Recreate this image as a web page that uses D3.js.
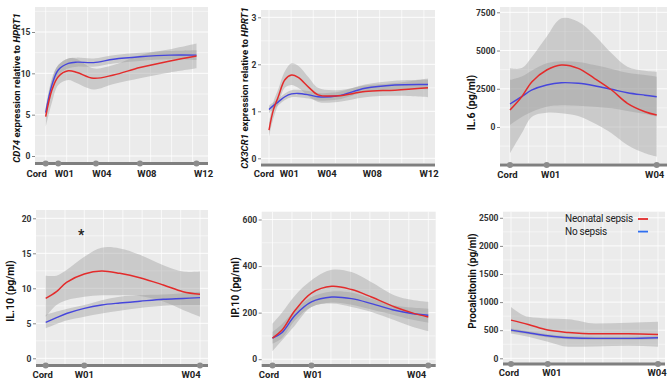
<!DOCTYPE html>
<html>
<head>
<meta charset="utf-8">
<script src="https://cdn.jsdelivr.net/npm/d3@7"></script>
<style>
  body { margin: 0; background: #fff; }
  svg { display: block; }
  text { font-family: Roboto, "Liberation Sans", sans-serif; }
</style>
</head>
<body>
<div id="chart"></div>
<script>
// ---- data ----
const longLabels = ["Cord", "W01", "W04", "W08", "W12"];
const longWeeks = [0, 1, 4, 7.5, 12];
const shortLabels = ["Cord", "W01", "W04"];
const shortWeeks = [0, 1, 4];

// CD74
const cd74Weeks = [0, 0.5, 1, 1.8, 2.5, 3.8, 5.4, 7.5, 9.9, 12];
const cd74Sepsis = [4.75, 8.0, 9.6, 10.3, 10.1, 9.4, 9.8, 10.7, 11.5, 12.1];
const cd74SepsisLo = [3.5, 6.5, 8.6, 9.2, 8.8, 8.05, 8.7, 9.4, 10.1, 10.6];
const cd74SepsisHi = [5.8, 9.4, 11.0, 11.8, 11.7, 10.6, 11.0, 12.2, 12.9, 13.6];
const cd74No = [5.25, 8.6, 10.4, 11.2, 11.35, 11.3, 11.7, 12.0, 12.2, 12.2];
const cd74NoLo = [4.8, 8.0, 9.8, 10.6, 10.8, 10.8, 11.2, 11.5, 11.7, 11.6];
const cd74NoHi = [5.7, 9.2, 11.0, 11.8, 11.9, 11.8, 12.2, 12.5, 12.7, 12.8];

// CX3CR1
const cx3Weeks = [0, 0.33, 0.7, 1.2, 1.7, 2.2, 3.0, 3.7, 5.2, 7.25, 9.5, 12];
const cx3Sepsis = [0.60, 1.03, 1.31, 1.67, 1.77, 1.72, 1.51, 1.35, 1.33, 1.42, 1.45, 1.50];
const cx3SepsisLo = [0.46, 0.85, 1.15, 1.50, 1.56, 1.50, 1.32, 1.20, 1.20, 1.30, 1.33, 1.30];
const cx3SepsisHi = [0.75, 1.20, 1.47, 1.85, 2.02, 1.97, 1.72, 1.50, 1.45, 1.55, 1.60, 1.70];
const cx3No = [1.04, 1.12, 1.20, 1.31, 1.37, 1.38, 1.35, 1.31, 1.33, 1.49, 1.56, 1.57];
const cx3NoLo = [0.96, 1.05, 1.13, 1.24, 1.30, 1.30, 1.27, 1.23, 1.25, 1.41, 1.47, 1.47];
const cx3NoHi = [1.12, 1.19, 1.27, 1.38, 1.45, 1.46, 1.43, 1.39, 1.41, 1.57, 1.65, 1.67];

// IL.6
const il6Weeks = [0, 0.32, 0.6, 1, 1.4, 1.86, 2.3, 2.77, 3.2, 3.68, 4];
const il6Sepsis = [1112, 1982, 2962, 3727, 4054, 3836, 3185, 2420, 1550, 1000, 785];
const il6SepsisLo = [-1720, -412, 675, 935, 896, 719, 240, -412, -1177, -1720, -1942];
const il6SepsisHi = [3838, 3850, 4597, 5906, 7108, 6886, 6016, 4819, 3943, 3682, 3616];
const il6No = [1504, 1982, 2420, 2746, 2897, 2858, 2700, 2465, 2243, 2080, 1982];
const il6NoLo = [131, 650, 1000, 1330, 1420, 1396, 1330, 1220, 1050, 850, 675];
const il6NoHi = [3074, 3300, 3700, 4166, 4300, 4250, 4050, 3800, 3550, 3400, 3290];

// IL.10
const il10Weeks = [0, 0.28, 0.54, 1, 1.45, 1.92, 2.44, 3.05, 3.56, 4];
const il10Sepsis = [8.57, 9.52, 10.86, 12.05, 12.48, 12.14, 11.52, 10.48, 9.52, 9.14];
const il10SepsisLo = [5.9, 7.6, 8.3, 8.8, 9.0, 9.0, 8.9, 8.1, 6.9, 5.95];
const il10SepsisHi = [11.8, 11.8, 12.6, 14.5, 15.8, 15.7, 14.8, 13.3, 12.4, 12.4];
const il10No = [5.14, 5.8, 6.4, 7.14, 7.62, 7.9, 8.15, 8.43, 8.55, 8.67];
const il10NoLo = [4.29, 4.9, 5.4, 5.95, 6.4, 6.8, 7.2, 7.5, 7.6, 7.6];
const il10NoHi = [6.2, 6.67, 7.05, 7.6, 8.3, 8.8, 9.0, 9.1, 9.3, 9.5];

// IP.10
const ip10Weeks = [0, 0.24, 0.58, 1, 1.52, 2.03, 2.54, 3.14, 3.57, 4];
const ip10Sepsis = [91, 124, 210, 284, 313, 299, 267, 224, 200, 181];
const ip10SepsisLo = [34, 80, 146, 224, 239, 224, 203, 167, 140, 120];
const ip10SepsisHi = [153, 200, 274, 339, 384, 374, 331, 274, 255, 246];
const ip10No = [91, 114, 189, 246, 267, 260, 239, 210, 196, 189];
const ip10NoLo = [67, 90, 167, 224, 243, 234, 213, 189, 170, 157];
const ip10NoHi = [117, 150, 210, 267, 291, 286, 260, 231, 222, 217];

// Procalcitonin
const pctWeeks = [0, 0.47, 1, 1.56, 2.29, 3.19, 4];
const pctSepsis = [679, 602, 502, 460, 437, 437, 425];
const pctSepsisLo = [443, 384, 295, 207, 210, 224, 207];
const pctSepsisHi = [915, 738, 708, 696, 620, 631, 649];
const pctNo = [502, 454, 401, 366, 354, 354, 366];
const pctNoLo = [474, 426, 372, 337, 325, 325, 337];
const pctNoHi = [530, 482, 430, 395, 383, 383, 395];

const legendLabels = ["Neonatal sepsis", "No sepsis"];

// ---- colours ----
const red = "#e32b2b", blue = "#4646dc", legendBlue = "#2f6ff0";

const W = 669, H = 383;
const svg = d3.select("#chart").append("svg")
  .attr("width", W).attr("height", H);

function series(weeks, mid, lo, hi) {
  return weeks.map((w, i) => ({ w: w, v: mid[i], lo: lo[i], hi: hi[i] }));
}

const panels = [
  { box: [35, 7, 208, 163], xr: [45.7, 196.5], xMax: 12, yr: [156, 32], yMax: 15,
    yTicks: [0, 5, 10, 15], bar: 163.5, base: 176.5, dots: true,
    labels: longLabels, ticks: longWeeks, dx: [-9, 6, 6, 7, 7], gridStep: 1.67,
    title: [["CD74", true], [" expression relative to ", false], ["HPRT1", true]],
    tx: 16, ty: 88, tsize: 9.6,
    weeks: cd74Weeks, s: [cd74Sepsis, cd74SepsisLo, cd74SepsisHi], n: [cd74No, cd74NoLo, cd74NoHi] },
  { box: [261, 10, 435, 163], xr: [269, 428], xMax: 12, yr: [158.3, 17.3], yMax: 3,
    yTicks: [0, 1, 2, 3], bar: 165, base: 177, dots: false,
    labels: longLabels, ticks: longWeeks, dx: [-5, 7, 5, 4, 1], gridStep: 1.67,
    title: [["CX3CR1", true], [" expression relative  to ", false], ["HPRT1", true]],
    tx: 243.5, ty: 88, tsize: 9.6,
    weeks: cx3Weeks, s: [cx3Sepsis, cx3SepsisLo, cx3SepsisHi], n: [cx3No, cx3NoLo, cx3NoHi] },
  { box: [500, 7, 667, 163], xr: [510, 656.7], xMax: 4, yr: [127, 12.3], yMax: 7500,
    yTicks: [0, 2500, 5000, 7500], bar: 165, base: 177.5, dots: true,
    labels: shortLabels, ticks: shortWeeks, dx: [-2.5, 4, -2], gridStep: 0.5,
    title: [["IL.6 (pg/ml)", false]], tx: 471, ty: 102.5, tsize: 10.5,
    weeks: il6Weeks, s: [il6Sepsis, il6SepsisLo, il6SepsisHi], n: [il6No, il6NoLo, il6NoHi] },
  { box: [36, 210, 208, 365], xr: [45.7, 200], xMax: 4, yr: [358.3, 218.3], yMax: 20,
    yTicks: [0, 5, 10, 15, 20], bar: 365.5, base: 377.5, dots: true,
    labels: shortLabels, ticks: shortWeeks, dx: [-3, 0, -9], gridStep: 0.5,
    title: [["IL.10 (pg/ml)", false]], tx: 10, ty: 291, tsize: 10.5,
    weeks: il10Weeks, s: [il10Sepsis, il10SepsisLo, il10SepsisHi], n: [il10No, il10NoLo, il10NoHi] },
  { box: [261.7, 211.7, 435.7, 365], xr: [272.5, 428.3], xMax: 4, yr: [359.2, 219.5], yMax: 600,
    yTicks: [0, 200, 400, 600], bar: 365.5, base: 377.5, dots: true,
    labels: shortLabels, ticks: shortWeeks, dx: [-3.5, 1.5, -11.6], gridStep: 0.5,
    title: [["IP.10 (pg/ml)", false]], tx: 235, ty: 287.5, tsize: 10.5,
    weeks: ip10Weeks, s: [ip10Sepsis, ip10SepsisLo, ip10SepsisHi], n: [ip10No, ip10NoLo, ip10NoHi] },
  { box: [503, 211.7, 665, 363], xr: [511, 658], xMax: 4, yr: [358.3, 217.8], yMax: 2500,
    yTicks: [0, 500, 1000, 1500, 2000, 2500], bar: 364, base: 375.5, dots: true,
    labels: shortLabels, ticks: shortWeeks, dx: [-2, 4, -1], gridStep: 0.5, monotone: true,
    title: [["Procalcitonin  (pg/ml)", false]], tx: 471.7, ty: 281, tsize: 10,
    weeks: pctWeeks, s: [pctSepsis, pctSepsisLo, pctSepsisHi], n: [pctNo, pctNoLo, pctNoHi] }
];

panels.forEach(function(p) {
  var g = svg.append("g");
  var x = d3.scaleLinear().domain([0, p.xMax]).range(p.xr);
  var y = d3.scaleLinear().domain([0, p.yMax]).range(p.yr);
  var bx0 = p.box[0], by0 = p.box[1], bx1 = p.box[2], by1 = p.box[3];

  // panel background
  g.append("rect")
    .attr("x", bx0).attr("y", by0)
    .attr("width", bx1 - bx0).attr("height", by1 - by0)
    .attr("fill", "#ebebeb");

  // grid: minor + major horizontal, vertical at regular steps
  var step = p.yTicks[1] - p.yTicks[0];
  var hLines = d3.range(y.invert(by1) - step, y.invert(by0) + step, step / 2)
    .map(v => Math.round(v / (step / 2)) * step / 2);
  hLines.forEach(function(v) {
    var yy = y(v);
    if (yy < by0 || yy > by1) return;
    var major = Math.abs(v / step - Math.round(v / step)) < 1e-6;
    g.append("line")
      .attr("x1", bx0).attr("x2", bx1).attr("y1", yy).attr("y2", yy)
      .attr("stroke", "#fff").attr("stroke-width", major ? 0.9 : 0.5);
  });
  var xMin = x.invert(bx0), xMaxB = x.invert(bx1);
  for (var w = Math.ceil(xMin / p.gridStep) * p.gridStep; w <= xMaxB; w += p.gridStep) {
    g.append("line")
      .attr("x1", x(w)).attr("x2", x(w)).attr("y1", by0).attr("y2", by1)
      .attr("stroke", "#fff").attr("stroke-width", 0.7);
  }

  var curve = p.monotone ? d3.curveMonotoneX : d3.curveCatmullRom.alpha(0.5);
  var sData = series(p.weeks, p.s[0], p.s[1], p.s[2]);
  var nData = series(p.weeks, p.n[0], p.n[1], p.n[2]);

  var clipId = "clip" + Math.round(bx0) + "_" + Math.round(by0);
  svg.append("clipPath").attr("id", clipId)
    .append("rect").attr("x", bx0).attr("y", by0)
    .attr("width", bx1 - bx0).attr("height", by1 - by0);

  var area = d3.area()
    .x(d => x(d.w)).y0(d => y(d.lo)).y1(d => y(d.hi)).curve(curve);
  var line = d3.line().x(d => x(d.w)).y(d => y(d.v)).curve(curve);

  var plot = g.append("g").attr("clip-path", "url(#" + clipId + ")");
  [sData, nData].forEach(function(d) {
    plot.append("path").datum(d)
      .attr("d", area)
      .attr("fill", "#999999").attr("fill-opacity", 0.4);
  });
  plot.append("path").datum(nData)
    .attr("d", line).attr("fill", "none")
    .attr("stroke", blue).attr("stroke-width", 1.4);
  plot.append("path").datum(sData)
    .attr("d", line).attr("fill", "none")
    .attr("stroke", red).attr("stroke-width", 1.5);

  // y axis
  var yAxis = g.append("g")
    .attr("transform", "translate(" + bx0 + ",0)")
    .call(d3.axisLeft(y).tickValues(p.yTicks).tickFormat(d3.format("d"))
      .tickSize(3).tickPadding(1.5));
  yAxis.select(".domain").remove();
  yAxis.selectAll(".tick line").attr("stroke", "#555").attr("stroke-width", 0.7);
  yAxis.selectAll(".tick text")
    .attr("fill", "#333").attr("font-size", 8.5).attr("font-weight", "bold");
  yAxis.attr("font-family", null);

  // bottom bar with time points
  g.append("line")
    .attr("x1", bx0).attr("x2", bx1).attr("y1", p.bar).attr("y2", p.bar)
    .attr("stroke", "#7f7f7f").attr("stroke-width", 3);
  if (p.dots) {
    g.selectAll("circle.tp").data(p.ticks).enter().append("circle")
      .attr("cx", d => x(d)).attr("cy", p.bar).attr("r", 3)
      .attr("fill", "#8c8c8c");
  }
  g.selectAll("text.xl").data(p.labels).enter().append("text")
    .attr("x", (d, i) => x(p.ticks[i]) + p.dx[i])
    .attr("y", p.base)
    .attr("text-anchor", "middle")
    .attr("font-size", 9.5).attr("font-weight", "bold").attr("fill", "#222")
    .text(d => d);

  // y title
  var t = g.append("text")
    .attr("transform", "translate(" + p.tx + "," + p.ty + ") rotate(-90)")
    .attr("text-anchor", "middle").attr("dominant-baseline", "central")
    .attr("font-size", p.tsize).attr("font-weight", "bold").attr("fill", "#111");
  p.title.forEach(function(part) {
    t.append("tspan").attr("font-style", part[1] ? "italic" : "normal").text(part[0]);
  });
});

// significance mark on IL.10
svg.append("text")
  .attr("x", d3.scaleLinear().domain([0, 4]).range([45.7, 200])(0.92))
  .attr("y", 240).attr("text-anchor", "middle")
  .attr("font-size", 14).attr("font-weight", "bold").attr("fill", "#222")
  .text("*");

// legend in procalcitonin panel
var leg = svg.append("g");
leg.selectAll("text").data(legendLabels).enter().append("text")
  .attr("x", 565).attr("y", (d, i) => 222 + i * 12.6)
  .attr("font-size", 10).attr("letter-spacing", -0.25).attr("fill", "#222")
  .text(d => d);
leg.selectAll("line").data([red, legendBlue]).enter().append("line")
  .attr("x1", 638).attr("x2", 648)
  .attr("y1", (d, i) => 219 + i * 12.6).attr("y2", (d, i) => 219 + i * 12.6)
  .attr("stroke", d => d).attr("stroke-width", 1.8);
</script>
</body>
</html>
